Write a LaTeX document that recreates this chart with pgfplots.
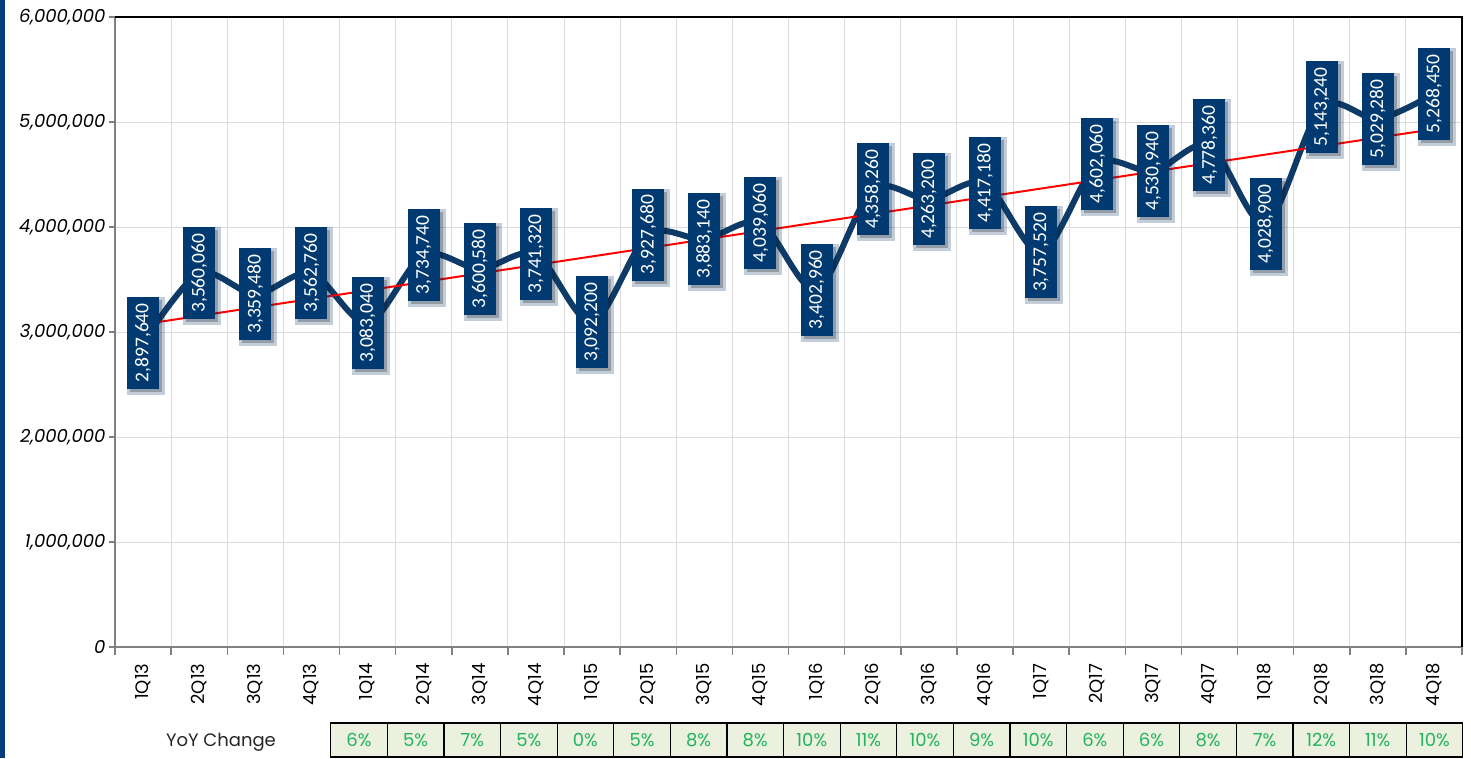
\documentclass[border=0pt]{standalone}
\usepackage{fontspec}
\setmainfont{Poppins}
\newfontfamily\labelfont{Carlito}
\usepackage{graphicx}
\usepackage{pgfplots}
\usepackage{pgfplotstable}
\pgfplotsset{compat=1.18}
\usetikzlibrary{shadows}
\definecolor{navy}{HTML}{003A70}
\definecolor{navyline}{HTML}{0D3A66}
\definecolor{gridc}{HTML}{DCDCDC}
\definecolor{axgray}{HTML}{808080}
\definecolor{yoyfill}{HTML}{EBF1DE}
\definecolor{yoytext}{HTML}{22B35C}
\definecolor{strip}{HTML}{003D7A}

\pgfplotstableread{
x y lab
1 2897640 2,897,640
2 3560060 3,560,060
3 3359480 3,359,480
4 3562760 3,562,760
5 3083040 3,083,040
6 3734740 3,734,740
7 3600580 3,600,580
8 3741320 3,741,320
9 3092200 3,092,200
10 3927680 3,927,680
11 3883140 3,883,140
12 4039060 4,039,060
13 3402960 3,402,960
14 4358260 4,358,260
15 4263200 4,263,200
16 4417180 4,417,180
17 3757520 3,757,520
18 4602060 4,602,060
19 4530940 4,530,940
20 4778360 4,778,360
21 4028900 4,028,900
22 5143240 5,143,240
23 5029280 5,029,280
24 5268450 5,268,450
}\datatable

\pgfplotstableread{
x y
1 3073173
24 4931997
}\trendtable

\begin{document}
\begin{tikzpicture}
\useasboundingbox (-115pt,-111pt) rectangle (1356pt,647pt);
\fill[white] (-115pt,-111pt) rectangle (1356pt,647pt);
\fill[strip] (-115pt,-111pt) rectangle (-110pt,647pt);
\begin{axis}[
  at={(0pt,0pt)}, anchor=south west,
  scale only axis, width=1347pt, height=630pt,
  xmin=0.5, xmax=24.5, ymin=0, ymax=6000000,
  clip=false,
  xtick={1,...,24},
  xticklabels={1Q13,2Q13,3Q13,4Q13,1Q14,2Q14,3Q14,4Q14,1Q15,2Q15,3Q15,4Q15,1Q16,2Q16,3Q16,4Q16,1Q17,2Q17,3Q17,4Q17,1Q18,2Q18,3Q18,4Q18},
  minor xtick={0.5,1.5,2.5,3.5,4.5,5.5,6.5,7.5,8.5,9.5,10.5,11.5,12.5,13.5,14.5,15.5,16.5,17.5,18.5,19.5,20.5,21.5,22.5,23.5,24.5},
  ytick={0,1000000,2000000,3000000,4000000,5000000,6000000},
  scaled y ticks=false,
  ymajorgrids, xminorgrids, xmajorgrids=false,
  grid style={gridc, line width=1pt},
  minor grid style={gridc, line width=1pt},
  axis line style={axgray, line width=2pt},
  tick align=outside, tick pos=left,
  major tick length=6pt, minor tick length=8pt,
  tick style={axgray, line width=1.5pt},
  every major x tick/.append style={draw=none},
  xticklabel shift=7pt,
  xticklabel style={rotate=90, anchor=east, font=\fontsize{18}{20}\selectfont, text=black},
  yticklabel style={font=\fontsize{18}{20}\selectfont\itshape, text=black,
     /pgf/number format/fixed, /pgf/number format/1000 sep={,},
     /pgf/number format/assume math mode=true},
]
\addplot[navyline, line width=6pt, smooth, tension=0.5, mark=none,
  point meta=explicit symbolic,
  nodes near coords={\rotatebox{90}{\pgfplotspointmeta}},
  every node near coord/.append style={anchor=center, fill=navy, text=white,
     inner sep=0pt, minimum width=32pt, minimum height=92pt,
     font=\labelfont\fontsize{19.5}{19.5}\selectfont,
     drop shadow={shadow xshift=3pt, shadow yshift=-3pt, fill=black, opacity=0.25}},
] table[x=x, y=y, meta=lab] {\datatable};
\addplot[red, line width=2pt, mark=none] table[x=x, y=y] {\trendtable};
\end{axis}
\draw[black, line width=2pt] (current axis.north west) -- (current axis.north east) -- (current axis.south east);
\node[font=\fontsize{18}{20}\selectfont, text=black!85] at (106pt,-95pt) {YoY Change};
\foreach \v [count=\i] in {6,5,7,5,0,5,8,8,10,11,10,9,10,6,6,8,7,12,11,10} {
  \pgfmathsetmacro\xl{215.7+(\i-1)*56.6}
  \draw[black, line width=1.2pt, fill=yoyfill] (\xl pt,-76pt) rectangle ++(56.6pt,-34pt);
  \node[text=yoytext, font=\fontsize{18}{20}\selectfont] at (\xl pt+28.3pt,-93pt) {\v\%};
}
\end{tikzpicture}
\end{document}
